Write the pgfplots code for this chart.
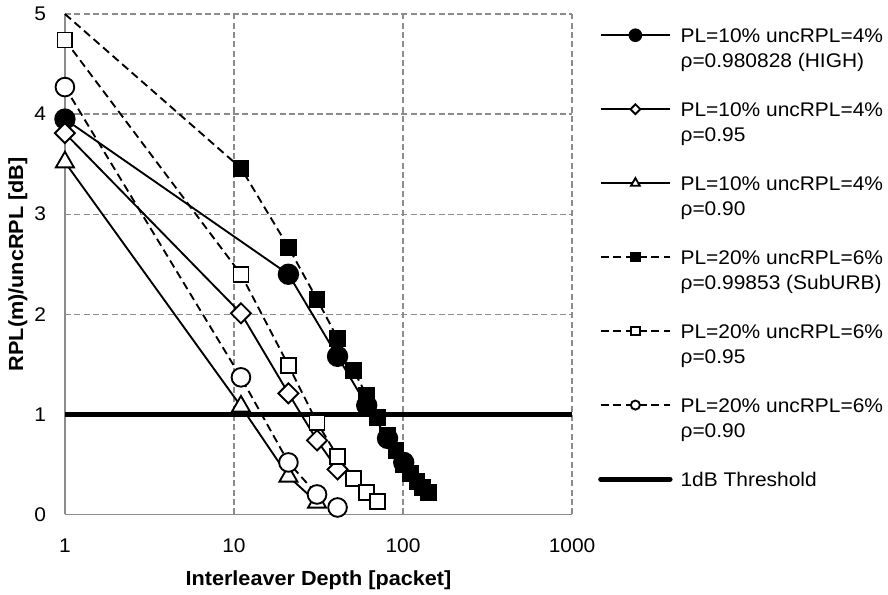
\documentclass[border=0pt]{standalone}
\usepackage{fontspec}
\setmainfont{Liberation Sans}[FakeStretch=1.06]
\usepackage{pgfplots}
\pgfplotsset{compat=1.18}
\definecolor{gridgray}{RGB}{140,140,140}
\newcommand{\two}[2]{\vtop{\hbox{\strut #1}\hbox{\strut #2}}}
\newcommand{\one}[1]{\hbox{\strut #1}}
\begin{document}
\begin{tikzpicture}
\begin{axis}[
  scale only axis, width=380pt, height=375pt,
  xmode=log, log basis x=10,
  xmin=1, xmax=1000, ymin=0, ymax=5,
  xtick={1,10,100,1000}, xticklabels={1,10,100,1000},
  ytick={0,1,2,3,4,5},
  grid=major,
  major grid style={gridgray, line width=0.9pt, dash pattern=on 4.5pt off 2.5pt},
  axis x line*=bottom, axis y line*=left,
  axis line style={gridgray, line width=1pt, -},
  tick style={draw=none},
  clip=false,
  /pgf/number format/assume math mode=true,
  tick label style={font=\fontsize{14.8}{17}\selectfont},
  xticklabel style={anchor=north, inner sep=0pt, yshift=-18pt},
  yticklabel style={anchor=east, inner sep=0pt, xshift=-14pt},
  xlabel={Interleaver Depth [packet]},
  ylabel={RPL(m)/uncRPL [dB]},
  label style={font=\bfseries\fontsize{15.3}{17}\selectfont},
  xlabel style={at={(axis description cs:0.5,-0.142)}, anchor=base},
  ylabel style={at={(axis description cs:-0.093,0.5)}, anchor=center},
  legend image code/.code={\draw[mark repeat=2, mark phase=2, yshift=5.3pt] plot coordinates {(0pt,0pt) (26pt,0pt) (52pt,0pt)};},
  legend style={at={(rel axis cs:1.051,0.979)}, anchor=north west, draw=none, fill=none,
    inner sep=0pt, row sep=40.8pt, column sep=6pt,
    font=\fontsize{14.8}{18.75}\selectfont,
    cells={anchor=base west}, nodes={inner sep=0pt}},
]
% PL=10% rho=0.980828 (HIGH)
\addplot[black, line width=1.4pt, mark=*, mark size=7.3pt, mark options={solid, fill=black},
  legend image post style={mark size=4.4pt}]
  coordinates {(1,3.95) (21,2.40) (41,1.58) (61,1.09) (81,0.76) (101,0.52)};
\addlegendentry{\two{PL=10\% uncRPL=4\%}{ρ=0.980828 (HIGH)}}
% PL=10% rho=0.95
\addplot[black, line width=1.4pt, mark=square*, mark size=5.3pt, mark options={solid, rotate=45, fill=white},
  legend image post style={mark size=2.6pt}]
  coordinates {(1,3.81) (11,2.01) (21,1.21) (31,0.74) (41,0.45)};
\addlegendentry{\two{PL=10\% uncRPL=4\%}{ρ=0.95}}
% PL=10% rho=0.90
\addplot[black, line width=1.4pt, mark=triangle*, mark size=7.8pt, mark options={solid, fill=white},
  legend image post style={mark size=3.8pt}]
  coordinates {(1,3.52) (11,1.08) (21,0.38) (31,0.12)};
\addlegendentry{\two{PL=10\% uncRPL=4\%}{ρ=0.90}}
% PL=20% rho=0.99853 (SubURB)
\addplot[black, line width=1.4pt, dash pattern=on 6pt off 3.5pt, mark=square*, mark size=5.6pt, mark options={solid, fill=black},
  mark phase=2, legend image post style={mark size=3.2pt}]
  coordinates {(1,5.0) (11,3.46) (21,2.67) (31,2.15) (41,1.76) (51,1.44) (61,1.19) (71,0.97) (81,0.79) (91,0.64) (101,0.50) (111,0.41) (121,0.33) (131,0.27) (141,0.22)};
\addlegendentry{\two{PL=20\% uncRPL=6\%}{ρ=0.99853 (SubURB)}}
% PL=20% rho=0.95
\addplot[black, line width=1.4pt, dash pattern=on 6pt off 3.5pt, mark=square*, mark size=5.6pt, mark options={solid, fill=white},
  legend image post style={mark size=3.2pt}]
  coordinates {(1,4.74) (11,2.40) (21,1.49) (31,0.92) (41,0.58) (51,0.36) (61,0.22) (71,0.13)};
\addlegendentry{\two{PL=20\% uncRPL=6\%}{ρ=0.95}}
% PL=20% rho=0.90
\addplot[black, line width=1.4pt, dash pattern=on 6pt off 3.5pt, mark=*, mark size=7pt, mark options={solid, fill=white},
  legend image post style={mark size=3.4pt}]
  coordinates {(1,4.27) (11,1.37) (21,0.52) (31,0.20) (41,0.07)};
\addlegendentry{\two{PL=20\% uncRPL=6\%}{ρ=0.90}}
% threshold
\addplot[black, line width=3.75pt, mark=none, legend image post style={line cap=round}]
  coordinates {(1,1) (1000,1)};
\addlegendentry{\one{1dB Threshold}}
\path (rel axis cs:-0.128,-0.154) rectangle (rel axis cs:1.623,1.028);
\end{axis}
\end{tikzpicture}
\end{document}
